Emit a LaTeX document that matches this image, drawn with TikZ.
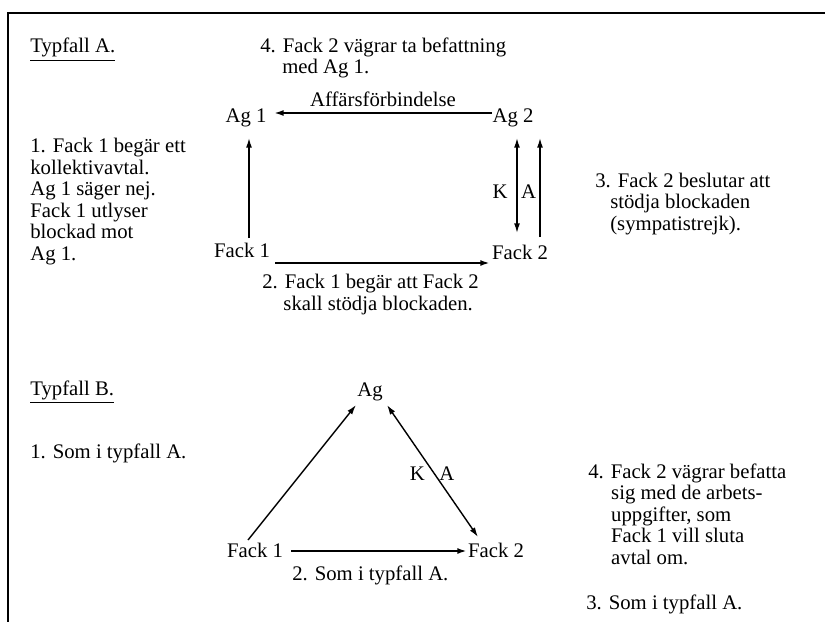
\documentclass[tikz,border=0pt]{standalone}
\usepackage{fontspec}
\setmainfont{Liberation Serif}
\usetikzlibrary{positioning,calc,arrows.meta}
\newcommand{\txtfont}{\fontsize{11.8}{12.2}\selectfont}

\begin{document}
\begin{tikzpicture}[x=0.02cm,y=-0.02cm,
   every node/.style={font=\txtfont,inner sep=0pt},
   txt/.style={anchor=base west,align=left},
   lbl/.style={anchor=base},
   pil/.style={-{Latex[length=5.5pt,width=3.4pt]},line width=0.8pt},
   dpil/.style={{Latex[length=5.5pt,width=3.4pt]}-{Latex[length=5.5pt,width=3.4pt]},line width=0.8pt}]
   \useasboundingbox (0,0) rectangle (825,625);
   \draw[line width=1.1pt] (825,13) -- (8,13);
   \draw[line width=0.85pt] (8,12.5) -- (8,622);

   % Typfall A (txt nodes sit on the baseline of their last line)
   \node[txt] (typA) at (30,53) {\underline{Typfall A.}};
   \node[txt] (a4) at (260,74) {4. Fack 2 vägrar ta befattning\\\hspace*{12.5pt}med Ag 1.};
   \node[txt] (a1) at (30,260) {1. Fack 1 begär ett\\kollektivavtal.\\Ag 1 säger nej.\\Fack 1 utlyser\\blockad mot\\Ag 1.};
   \node[txt] (a3) at (595,230) {3. Fack 2 beslutar att\\\hspace*{8.5pt}stödja blockaden\\\hspace*{8.5pt}(sympatistrejk).};
   \node[txt] (a2) at (262,310) {2. Fack 1 begär att Fack 2\\\hspace*{12pt}skall stödja blockaden.};

   \node[lbl] (ag1) at (246,123) {Ag 1};
   \node[lbl] (ag2) at (513,123) {Ag 2};
   \node[lbl] (fack1) at (242,257) {Fack 1};
   \node[lbl] (fack2) at (520,259) {Fack 2};

   \draw[pil,line width=1pt] ($(ag2.base)+(-21,-10)$) -- node[above=2.8pt] {Affärsförbindelse} ($(ag1.base)+(28,-10)$);
   \draw[pil] ($(fack1.base)+(7,-19)$) -- ($(ag1.base)+(3,15)$);
   \draw[pil,line width=1.2pt] ($(fack1.base)+(33,6)$) -- ($(fack2.base)+(-30,4)$);
   \draw[dpil] ($(ag2.base)+(4,15)$) -- node[pos=.57,left=5pt] {K} node[pos=.57,right=2pt] {A} ($(fack2.base)+(-3,-26)$);
   \draw[pil] ($(fack2.base)+(20,-22)$) -- ($(ag2.base)+(27,15)$);

   % Typfall B
   \node[txt] (typB) at (30,395) {\underline{Typfall B.}};
   \node[txt] (b1) at (30,458) {1. Som i typfall A.};
   \node[txt] (b4) at (588,564) {4. Fack 2 vägrar befatta\\\hspace*{13pt}sig med de arbets-\\\hspace*{13pt}uppgifter, som\\\hspace*{13pt}Fack 1 vill sluta\\\hspace*{13pt}avtal om.};
   \node[txt] (b2) at (292,580) {2. Som i typfall A.};
   \node[txt] (b3) at (586,609) {3. Som i typfall A.};

   \node[lbl] (ag) at (370,396) {Ag};
   \node[lbl] (fackB1) at (255,557) {Fack 1};
   \node[lbl] (fackB2) at (496,557) {Fack 2};

   \draw[pil] ($(fackB1.base)+(-7,-17)$) -- ($(ag.base)+(-14,9)$);
   \draw[dpil] ($(ag.base)+(17,9)$) -- node[pos=.52,left=5pt] {K} node[pos=.52,right=2.5pt] {A} ($(fackB2.base)+(-18,-20)$);
   \draw[pil,line width=1.2pt] ($(fackB1.base)+(36,-6)$) -- ($(fackB2.base)+(-29,-6)$);
\end{tikzpicture}
\end{document}
